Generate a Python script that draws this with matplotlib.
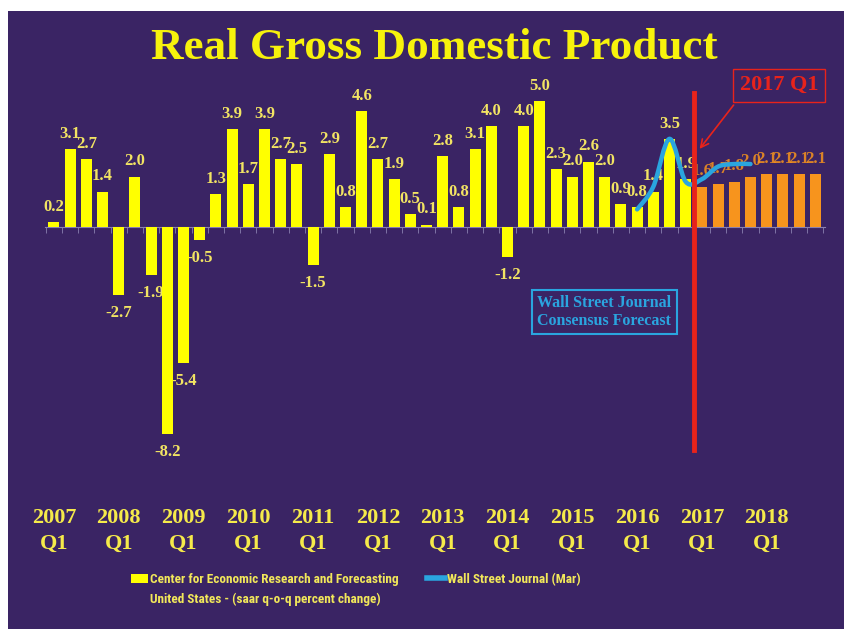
import numpy as np
import matplotlib.pyplot as plt
from matplotlib.path import Path
from matplotlib.patches import PathPatch, Patch, Rectangle
from matplotlib.lines import Line2D

# quarterly real GDP, 2007 Q1 .. 2016 Q4 (actual) and 2017 Q1 .. 2018 Q4 (forecast)
actual = [0.2, 3.1, 2.7, 1.4, -2.7, 2.0, -1.9, -8.2, -5.4, -0.5,
          1.3, 3.9, 1.7, 3.9, 2.7, 2.5, -1.5, 2.9, 0.8, 4.6,
          2.7, 1.9, 0.5, 0.1, 2.8, 0.8, 3.1, 4.0, -1.2, 4.0,
          5.0, 2.3, 2.0, 2.6, 2.0, 0.9, 0.8, 1.4, 3.5, 1.9]
forecast = [1.6, 1.7, 1.8, 2.0, 2.1, 2.1, 2.1, 2.1]
# WSJ consensus line, 2016 Q1 .. 2017 Q4
wsj = [0.7, 1.6, 3.5, 1.8, 1.9, 2.4, 2.5, 2.5]
wsj_start = 36
years = list(range(2007, 2019))

BG = '#3a2464'
YEL = '#ffff00'
LBL = '#f2e463'
ORA = '#f7941d'
BLUE = '#2aa5df'
RED = '#e8231b'
SERIF = 'Liberation Serif'
NARROW = ['Roboto Condensed', 'Open Sans Condensed', 'Liberation Sans Narrow', 'Lato']

fig = plt.figure(figsize=(8.44, 6.29), dpi=100, facecolor='white')
fig.patches.append(Rectangle((8 / 844, 0), 1, 1 - 11 / 629, transform=fig.transFigure,
                             facecolor=BG, edgecolor='none', zorder=-5))
ax = fig.add_axes([45 / 844, 149 / 629, 780 / 844, 420 / 629])
ax.set_facecolor('none')

xa = np.arange(len(actual))
xf = np.arange(len(actual), len(actual) + len(forecast))
ax.bar(xa, actual, width=0.68, color=YEL, zorder=3)
ax.bar(xf, forecast, width=0.68, color=ORA, zorder=3)

for x, v in zip(xa, actual):
    ax.annotate(f'{v:.1f}', (x, v), xytext=(0, 11 if v >= 0 else -13), textcoords='offset points',
                ha='center', va='center', color=LBL, fontsize=12, fontweight='bold',
                family=SERIF, zorder=2.5)
for x, v in zip(xf, forecast):
    ax.annotate(f'{v:.1f}', (x, v), xytext=(0, 11), textcoords='offset points',
                ha='center', va='center', color=ORA, fontsize=12, fontweight='bold',
                family=SERIF, zorder=2.5, alpha=0.85)

# smoothed WSJ line (Catmull-Rom -> cubic bezier)
wx = np.arange(wsj_start, wsj_start + len(wsj), dtype=float)
pts = np.column_stack([wx, wsj])
ext = np.vstack([pts[0], pts, pts[-1]])
verts = [tuple(pts[0])]
codes = [Path.MOVETO]
for k in range(1, len(ext) - 2):
    p0, p1, p2, p3 = ext[k - 1], ext[k], ext[k + 1], ext[k + 2]
    verts += [tuple(p1 + (p2 - p0) / 6), tuple(p2 - (p3 - p1) / 6), tuple(p2)]
    codes += [Path.CURVE4] * 3
ax.add_patch(PathPatch(Path(verts, codes), facecolor='none', edgecolor=BLUE, lw=3.2,
                       capstyle='round', joinstyle='round', zorder=5))

ax.set_xlim(-0.55, 47.6)
ax.set_ylim(-10.04, 6.63)
for s in ['top', 'left', 'right']:
    ax.spines[s].set_visible(False)
ax.spines['bottom'].set_position(('data', 0))
ax.spines['bottom'].set_color('#8a80b0')
ax.spines['bottom'].set_zorder(1)
ax.set_yticks([])
ax.set_xticks([])
ax.set_xticks(np.arange(-0.5, len(actual) + len(forecast), 1), minor=True)
ax.tick_params(axis='x', which='minor', direction='out', length=4, color='#8a80b0')

# year labels under each Q1
for k, yr in enumerate(years):
    ax.text(4 * k, -0.121, f'{yr}\nQ1', transform=ax.get_xaxis_transform(), ha='center',
            va='center', color='#f5ea4a', fontsize=16, fontweight='bold', family=SERIF,
            linespacing=1.4)

# 2017 Q1 marker
split = len(actual) - 0.5
ax.axvline(split, ymin=0.071, ymax=0.921, color=RED, lw=3.5, zorder=6)
ax.text(0.941, 0.940, '2017 Q1', transform=ax.transAxes, ha='center', va='center',
        color=RED, fontsize=16, fontweight='bold', family=SERIF,
        bbox=dict(boxstyle='square,pad=0.3', facecolor='none', edgecolor=RED, lw=1))
ax.annotate('', xy=(0.837, 0.783), xycoords='axes fraction', xytext=(0.885, 0.898),
            textcoords='axes fraction',
            arrowprops=dict(arrowstyle='->', color=RED, lw=1.2, mutation_scale=14))

ax.text(0.717, 0.40, 'Wall Street Journal\nConsensus Forecast', transform=ax.transAxes,
        ha='center', va='center', color=BLUE, fontsize=11.5, fontweight='bold', family=SERIF,
        linespacing=1.1,
        bbox=dict(boxstyle='square,pad=0.35', facecolor='none', edgecolor=BLUE, lw=1.5))

fig.text(0.514, 1 - 48 / 629, 'Real Gross Domestic Product', ha='center', va='center',
         color='#f7f20c', fontsize=32.5, fontweight='bold', family=SERIF)

handles = [Patch(facecolor=YEL), Patch(visible=False),
           Line2D([], [], color=BLUE, lw=4), Patch(visible=False)]
labels = ['Center for Economic Research and Forecasting',
          'United States - (saar q-o-q percent change)',
          'Wall Street Journal (Mar)', '']
leg = fig.legend(handles, labels, ncol=2, loc='upper left', bbox_to_anchor=(124 / 844, 1 - 566 / 629),
                 frameon=False, borderpad=0, handlelength=1.35, handletextpad=0.15,
                 columnspacing=2.1, labelspacing=0.55,
                 prop=dict(family=NARROW, weight='bold', size=9.5))
for t in leg.get_texts():
    t.set_color('#f2e85a')

fig.savefig('out.png', dpi=100, facecolor='white')
